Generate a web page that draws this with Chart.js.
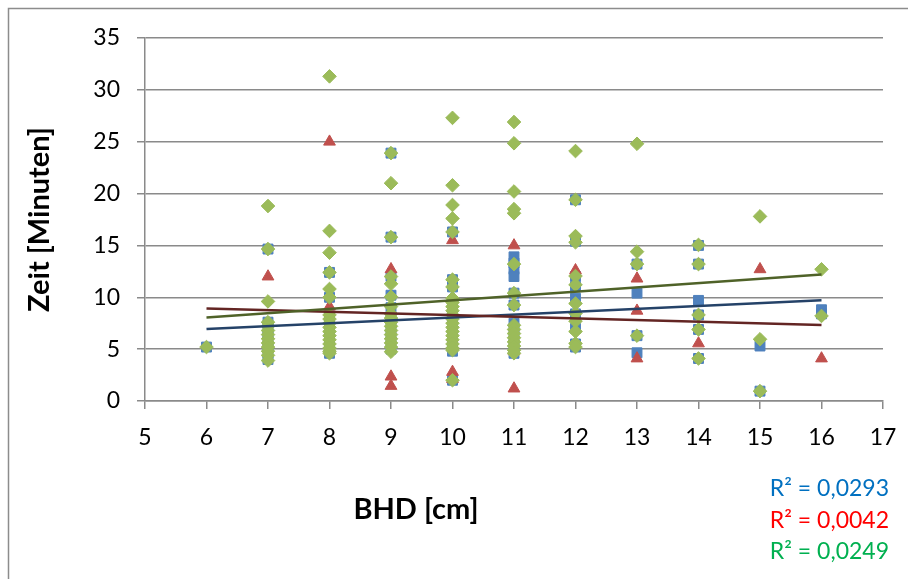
<!DOCTYPE html>
<html>
<head>
<meta charset="utf-8">
<script src="https://cdn.jsdelivr.net/npm/chart.js@4.4.1/dist/chart.umd.min.js"></script>
<style>
  html, body { margin: 0; padding: 0; background: #ffffff; }
  #wrap { width: 908px; height: 579px; position: relative; }
</style>
</head>
<body>
<div id="wrap"><canvas id="c" width="908" height="579"></canvas></div>
<script>
// ---- Data ----
const xTickValues = [5, 6, 7, 8, 9, 10, 11, 12, 13, 14, 15, 16, 17];
const yTickValues = [0, 5, 10, 15, 20, 25, 30, 35];

// Series 1 (blue squares)
const blueX = [6,
  7, 7, 7, 7, 7, 7, 7, 7,
  8, 8, 8, 8, 8, 8, 8, 8,
  9, 9, 9, 9, 9, 9, 9, 9, 9,
  10, 10, 10, 10, 10, 10, 10, 10, 10, 10,
  11, 11, 11, 11, 11, 11, 11, 11, 11, 11,
  12, 12, 12, 12, 12, 12, 12, 12, 12,
  13, 13, 13, 13,
  14, 14, 14, 14, 14, 14,
  15, 15,
  16, 16];
const blueY = [5.2,
  14.65, 7.6, 7.0, 6.4, 5.8, 5.2, 4.6, 4.0,
  12.4, 10.0, 8.2, 7.4, 6.6, 5.8, 5.0, 4.6,
  23.9, 15.8, 12.0, 10.2, 9.0, 8.0, 7.0, 6.0, 5.0,
  16.3, 11.7, 11.0, 9.5, 8.5, 7.5, 6.5, 5.5, 4.8, 2.0,
  13.9, 13.3, 12.7, 12.0, 10.4, 9.25, 7.5, 6.5, 5.5, 4.6,
  19.4, 15.4, 12.0, 11.0, 9.9, 8.4, 7.0, 5.5, 5.2,
  13.2, 10.4, 6.3, 4.65,
  15.0, 13.2, 9.7, 8.3, 6.9, 4.1,
  5.3, 0.95,
  8.8, 8.4];

// Series 2 (red triangles)
const redX = [7, 8, 8, 9, 9, 9, 10, 10, 10, 11, 11, 11, 12, 13, 13, 13, 14, 15, 16];
const redY = [12.0, 25.0, 9.1, 12.7, 2.35, 1.45, 15.5, 2.8, 2.1, 15.0, 4.8, 1.2, 12.6, 11.8, 8.7, 4.1, 5.55, 12.7, 4.1];

// Series 3 (green diamonds)
const greenX = [6,
  7, 7, 7, 7, 7, 7, 7, 7, 7, 7, 7, 7, 7,
  8, 8, 8, 8, 8, 8, 8, 8, 8, 8, 8, 8, 8, 8, 8, 8, 8,
  9, 9, 9, 9, 9, 9, 9, 9, 9, 9, 9, 9, 9, 9, 9, 9, 9,
  10, 10, 10, 10, 10, 10, 10, 10, 10, 10, 10, 10, 10, 10, 10, 10, 10, 10, 10, 10, 10, 10,
  11, 11, 11, 11, 11, 11, 11, 11, 11, 11, 11, 11, 11, 11, 11, 11,
  12, 12, 12, 12, 12, 12, 12, 12, 12, 12, 12, 12,
  13, 13, 13, 13,
  14, 14, 14, 14, 14,
  15, 15, 15,
  16, 16];
const greenY = [5.2,
  18.8, 14.65, 9.6, 7.6, 7.2, 6.8, 6.4, 6.0, 5.6, 5.2, 4.8, 4.4, 3.9,
  31.3, 16.4, 14.3, 12.4, 10.8, 10.0, 8.3, 7.9, 7.5, 7.1, 6.7, 6.3, 5.9, 5.5, 5.1, 4.8, 4.6,
  23.9, 21.0, 15.8, 12.0, 11.3, 10.05, 9.1, 8.4, 8.0, 7.6, 7.2, 6.8, 6.4, 6.0, 5.6, 5.2, 4.75,
  27.3, 20.8, 18.9, 17.6, 16.3, 11.7, 11.0, 9.9, 9.5, 9.1, 8.7, 8.3, 7.9, 7.5, 7.1, 6.7, 6.3, 5.9, 5.5, 5.1, 4.9, 2.0,
  26.9, 24.85, 20.2, 18.5, 18.1, 13.2, 10.4, 9.25, 7.3, 6.9, 6.5, 6.1, 5.7, 5.3, 4.9, 4.6,
  24.1, 19.4, 15.9, 15.3, 12.05, 11.2, 9.4, 8.45, 7.7, 6.7, 5.55, 5.2,
  24.8, 14.4, 13.2, 6.3,
  15.05, 13.2, 8.3, 6.9, 4.1,
  17.8, 5.95, 0.95,
  12.7, 8.2];

// Linear trend lines (end values)
const trendX = [6, 16];
const blueTrend = [6.95, 9.72];
const redTrend = [8.92, 7.33];
const greenTrend = [8.05, 12.2];

// R² labels
const r2Labels = ['R² = 0,0293', 'R² = 0,0042', 'R² = 0,0249'];
const r2Colors = ['#0070C0', '#FF0000', '#00B050'];

const yTitle = 'Zeit [Minuten]';
const xTitle = 'BHD [cm]';

// ---- Build chart ----
const pts = (xs, ys) => xs.map((x, i) => ({ x: x, y: ys[i] }));

const FONT = 'Lato, "Open Sans", sans-serif';
const GRID = '#8a8a8a';

const framePlugin = {
  id: 'frame',
  beforeDraw(chart) {
    const ctx = chart.ctx;
    ctx.save();
    ctx.fillStyle = '#ffffff';
    ctx.fillRect(0, 0, chart.width, chart.height);
    ctx.strokeStyle = '#8c8c8c';
    ctx.lineWidth = 1.5;
    ctx.beginPath();
    ctx.moveTo(8.5, chart.height);
    ctx.lineTo(8.5, 8.5);
    ctx.lineTo(chart.width, 8.5);
    ctx.stroke();
    ctx.restore();
  },
  afterDraw(chart) {
    const ctx = chart.ctx;
    ctx.save();
    ctx.fillStyle = '#000000';
    ctx.font = 'bold 29px ' + FONT;
    ctx.textAlign = 'center';
    ctx.textBaseline = 'middle';
    ctx.fillText(xTitle, 416, 510);
    ctx.font = '23px ' + FONT;
    ctx.textAlign = 'right';
    const lineY = [489, 521, 552];
    r2Labels.forEach((t, i) => {
      ctx.fillStyle = r2Colors[i];
      ctx.fillText(t, 889, lineY[i]);
    });
    ctx.restore();
  }
};

new Chart(document.getElementById('c'), {
  type: 'scatter',
  data: {
    datasets: [
      { label: 'blue', data: pts(blueX, blueY), pointStyle: 'rect', pointRadius: 7,
        backgroundColor: '#4F81BD', borderColor: '#4F81BD', borderWidth: 1, order: 5 },
      { label: 'red', data: pts(redX, redY), pointStyle: 'triangle', pointRadius: 6.8,
        backgroundColor: '#C0504D', borderColor: '#C0504D', borderWidth: 1, order: 4 },
      { label: 'green', data: pts(greenX, greenY), pointStyle: 'rectRot', pointRadius: 6.8,
        backgroundColor: '#9BBB59', borderColor: '#9BBB59', borderWidth: 1, order: 3 },
      { type: 'line', label: 'blue trend', data: pts(trendX, blueTrend), showLine: true,
        pointRadius: 0, borderColor: '#254268', borderWidth: 2.5, order: 2 },
      { type: 'line', label: 'red trend', data: pts(trendX, redTrend), showLine: true,
        pointRadius: 0, borderColor: '#632523', borderWidth: 2.5, order: 1 },
      { type: 'line', label: 'green trend', data: pts(trendX, greenTrend), showLine: true,
        pointRadius: 0, borderColor: '#4F6228', borderWidth: 2.5, order: 0 }
    ]
  },
  options: {
    responsive: false,
    animation: false,
    devicePixelRatio: 1,
    layout: { padding: { left: 0, right: 25, top: 38, bottom: 0 } },
    plugins: { legend: { display: false }, tooltip: { enabled: false } },
    scales: {
      x: {
        type: 'linear', min: 5, max: 17,
        afterBuildTicks: (s) => { s.ticks = xTickValues.map(v => ({ value: v })); },
        afterFit: (s) => { s.height = 178; s.paddingLeft = 0; s.paddingRight = 0; },
        grid: { drawOnChartArea: false, drawTicks: true, tickLength: 8, color: GRID, lineWidth: 1.5 },
        border: { color: GRID, width: 1.5 },
        ticks: { font: { family: FONT, size: 23 }, color: '#000000', padding: 15, maxRotation: 0 }
      },
      y: {
        type: 'linear', min: 0, max: 35,
        afterBuildTicks: (s) => { s.ticks = yTickValues.map(v => ({ value: v })); },
        afterFit: (s) => { s.width = 145; s.paddingTop = 0; s.paddingBottom = 0; },
        grid: { drawOnChartArea: true, drawTicks: true, tickLength: 8, color: GRID, lineWidth: 1.5 },
        border: { color: GRID, width: 1.5 },
        ticks: { font: { family: FONT, size: 23 }, color: '#000000', padding: 17 },
        title: { display: true, text: yTitle, color: '#000000',
                 font: { family: FONT, size: 29, weight: 'bold' }, padding: { top: 22, bottom: 0 } }
      }
    }
  },
  plugins: [framePlugin]
});
</script>
</body>
</html>
